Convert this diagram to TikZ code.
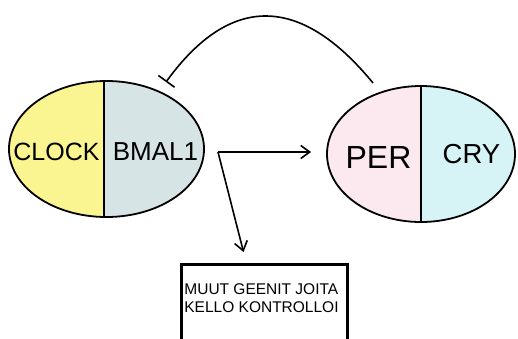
\documentclass[tikz,border=0pt]{standalone}
\usepackage{fontspec}
\setmainfont{Liberation Sans}
\usetikzlibrary{shapes.geometric,arrows.meta,calc}
\definecolor{clockfill}{RGB}{251,245,145}
\definecolor{bmalfill}{RGB}{214,228,230}
\definecolor{perfill}{RGB}{251,233,239}
\definecolor{cryfill}{RGB}{214,243,245}
\begin{document}
\begin{tikzpicture}[x=1pt,y=-1pt,
  oval/.style={ellipse, draw, line width=1.8pt, inner sep=0pt},
  lbl/.style={inner sep=0pt, anchor=base},
  conn/.style={line width=1.6pt, -{Straight Barb[length=9pt,width=13pt]}},
  inhib/.style={line width=1.6pt, -{Bar[width=20pt]}},
  divider/.style={line width=1.8pt},
  boxstyle/.style={draw, line width=3pt, inner sep=0pt, anchor=north west}
]
\clip (0,0) rectangle (518,338);
% left ellipse halves
\begin{scope}
  \clip (106.5,149) ellipse [x radius=97.5, y radius=68];
  \fill[clockfill] (0,70) rectangle (104,230);
  \fill[bmalfill] (104,70) rectangle (210,230);
  \draw[divider] (104,70) -- (104,230);
\end{scope}
\node[oval, minimum width=195pt, minimum height=136pt] (cb) at (106.5,149) {};
% right ellipse halves
\begin{scope}
  \clip (421,154) ellipse [x radius=94, y radius=68];
  \fill[perfill] (320,80) rectangle (421,230);
  \fill[cryfill] (421,80) rectangle (520,230);
  \draw[divider] (421,80) -- (421,230);
\end{scope}
\node[oval, minimum width=188pt, minimum height=136pt] (pc) at (421,154) {};
% labels
\node[lbl, font=\fontsize{25}{30}\selectfont] (clock) at (56.5,160) {CLOCK};
\node[lbl, font=\fontsize{26}{30}\selectfont] (bmal) at (155.5,160) {BMAL1};
\node[lbl, font=\fontsize{32}{36}\selectfont] (per) at (378.5,168) {PER};
\node[lbl, font=\fontsize{27.5}{32}\selectfont] (cry) at (471.5,163) {CRY};
% box
\node[boxstyle, minimum width=166pt, minimum height=90pt] (box) at (180,263) {};
\node[inner sep=0pt, align=left, font=\fontsize{15.5}{18}\selectfont] (boxtxt) at (261.5,298.5)
  {MUUT GEENIT JOITA\\KELLO KONTROLLOI};
% connectors
\coordinate (fork) at (218,152);
\draw[conn] (fork) -- ($(fork -| pc.west)+(-15,0)$);
\draw[conn] (fork) -- ($(box.north)+(-21,-11)$);
\coordinate (inhS) at (373,83);
\coordinate (inhE) at (166,82);
\draw[inhib] (inhS) .. controls (300,-6) and (230,-6) .. (inhE);
\end{tikzpicture}
\end{document}
